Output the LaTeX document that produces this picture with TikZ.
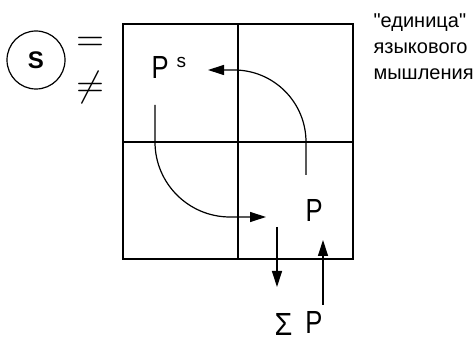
\documentclass[tikz,border=0pt]{standalone}
\usepackage[no-math]{fontspec}
\setmainfont{Liberation Sans}[Ligatures=TeXOff]
\usetikzlibrary{arrows.meta}
\begin{document}
\begin{tikzpicture}[x=1pt,y=1pt,line width=1.2pt,
  arr/.style={-{Triangle[length=16pt,width=10pt]}},
  lbl/.style={inner sep=0pt,anchor=base west},
  bigP/.style={font=\fontsize{32}{32}\selectfont},
  cyr/.style={lbl,font=\fontsize{20}{20}\selectfont},
  rel/.style={inner sep=0pt,anchor=base}]
\useasboundingbox (0,0) rectangle (474,339);
% grid square
\coordinate (sw) at (123,80);
\coordinate (ne) at (353,315);
\coordinate (vt) at (238,315);
\coordinate (vb) at (238,80);
\coordinate (hl) at (123,197);
\coordinate (hr) at (353,197);
\draw (sw) rectangle (ne);
\draw (vt) -- (vb);
\draw (hl) -- (hr);
% circle S
\node[draw,circle,minimum size=58pt,inner sep=0pt,font=\fontsize{24}{24}\selectfont\bfseries] (S) at (36,279) {S};
\node[rel] (eq) at (90,288) {\scalebox{3.6}{$=$}};
\node[rel] (neq) at (90,242) {\scalebox{3.6}{$\neq$}};
% labels
\node[lbl,bigP] (Ps) at (151,260) {\scalebox{0.8}[1]{P}\hspace{8pt}\raisebox{11pt}{\fontsize{19}{19}\selectfont s}};
\node[lbl,bigP] (P2) at (305,117) {\scalebox{0.8}[1]{P}};
\node[lbl,bigP] (sumP) at (274,5) {\raisebox{-1.5pt}{\scalebox{0.9}[1]{Σ}}\hspace{13pt}\scalebox{0.8}[1]{P}};
\node[cyr] (t1) at (373,311) {"единица"};
\node[cyr] (t2) at (373,285) {языкового};
\node[cyr] (t3) at (373,259) {мышления};
% arrows
\coordinate (u1) at (306,164);
\coordinate (u2) at (208,269);
\draw[arr] (u1) -- ++(0,33) arc[start angle=0,end angle=90,radius=72] -- (u2);
\coordinate (l1) at (155,234);
\coordinate (l2) at (266,122);
\draw[arr] (l1) -- ++(0,-37) arc[start angle=180,end angle=270,radius=75] -- (l2);
\coordinate (d1) at (277,112);
\coordinate (d2) at (277,52);
\draw[arr] (d1) -- (d2);
\coordinate (v1) at (323,34);
\coordinate (v2) at (323,99);
\draw[arr] (v1) -- (v2);
\end{tikzpicture}
\end{document}
